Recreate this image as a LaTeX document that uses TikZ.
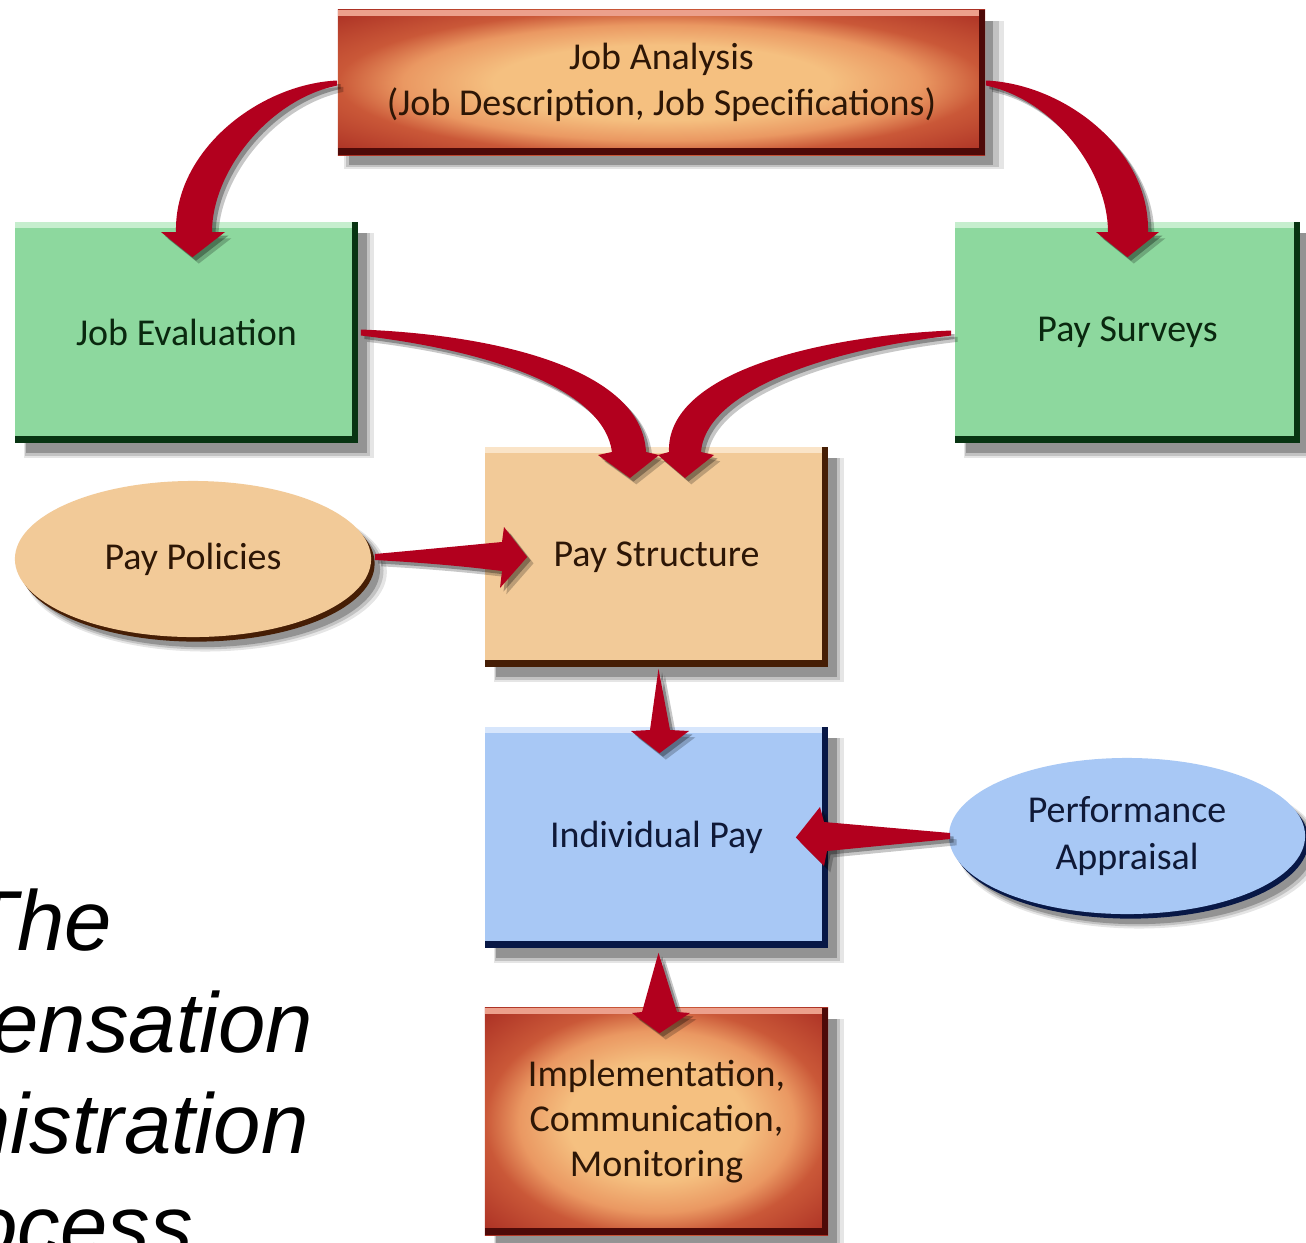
\documentclass[tikz,border=0pt]{standalone}
\usepackage{fontspec}
\setmainfont{Carlito}
\newfontfamily\titlefont{Liberation Sans}
\usetikzlibrary{shapes.geometric,shadows,calc}
\definecolor{glowA}{RGB}{245,192,128}
\definecolor{glowB}{RGB}{234,152,98}
\definecolor{glowC}{RGB}{202,88,56}
\definecolor{glowD}{RGB}{168,44,34}
\definecolor{glowhi}{RGB}{236,160,140}
\definecolor{glowdark}{RGB}{78,10,8}
\definecolor{jagreen}{RGB}{141,216,158}
\definecolor{greenhi}{RGB}{198,238,206}
\definecolor{greendark}{RGB}{8,52,18}
\definecolor{tanfill}{RGB}{242,202,152}
\definecolor{tanhi}{RGB}{250,228,200}
\definecolor{tandark}{RGB}{70,30,5}
\definecolor{bluefill}{RGB}{168,200,245}
\definecolor{bluehi}{RGB}{215,230,252}
\definecolor{bluedark}{RGB}{8,24,70}
\definecolor{arrowred}{RGB}{178,0,30}
\definecolor{brtext}{RGB}{45,22,6}
\definecolor{grtext}{RGB}{10,40,15}
\definecolor{bltext}{RGB}{15,25,55}
\pgfdeclareradialshading{boxglow}{\pgfpoint{0bp}{0bp}}{color(0bp)=(glowA); color(13bp)=(glowA); color(20bp)=(glowB); color(25bp)=(glowC); color(36bp)=(glowD); color(50bp)=(glowD)}
\tikzset{
  softshadow/.style={
    general shadow={fill=black,opacity=.10,shadow xshift=3.4pt,shadow yshift=-3.6pt,shadow scale=1.02},
    general shadow={fill=black,opacity=.15,shadow xshift=3.1pt,shadow yshift=-3.3pt,shadow scale=1.008},
    general shadow={fill=black,opacity=.24,shadow xshift=2.8pt,shadow yshift=-3.0pt,shadow scale=0.995}},
  bevel/.style 2 args={path picture={
    \fill[#1] ([yshift=-0.06cm]path picture bounding box.north west) rectangle (path picture bounding box.north east);
    \fill[#2] ([xshift=-0.06cm]path picture bounding box.north east) rectangle (path picture bounding box.south east);
    \fill[#2] ([yshift=0.07cm]path picture bounding box.south west) rectangle (path picture bounding box.south east);}},
  box/.style={rectangle, inner sep=0pt, softshadow, align=center,
    font=\fontsize{10.8}{12.9}\selectfont},
  oval/.style 2 args={ellipse, inner sep=0pt, softshadow,
    general shadow={fill=white,opacity=.6,shadow xshift=-0.6pt,shadow yshift=0.6pt},
    general shadow={fill=#2,shadow xshift=1.0pt,shadow yshift=-1.3pt},
    fill=#1, align=center, font=\fontsize{10.8}{13.4}\selectfont,
    minimum width=3.56cm, minimum height=1.56cm},
  redarrow/.style={fill=arrowred,
    general shadow={fill=black,opacity=.22,shadow xshift=1.8pt,shadow yshift=-1.8pt},
    general shadow={fill=black,opacity=.3,shadow xshift=1.0pt,shadow yshift=-1.0pt}},
  titleline/.style={anchor=base, inner sep=0pt,
    font=\titlefont\itshape\fontsize{24.2}{29}\selectfont}
}
\begin{document}
\begin{tikzpicture}[x=0.01cm,y=-0.01cm]
\useasboundingbox (0,0) rectangle (1306,1242);
\clip (0,0) rectangle (1306,1242);
\fill[white] (0,0) rectangle (1306,1242);

% title (clipped at the left edge, as in the reference)
\node[titleline] (t1) at (39,950) {The};
\node[titleline] (t2) at (39,1052) {Compensation};
\node[titleline] (t3) at (39,1153) {Administration};
\node[titleline] (t4) at (39,1255) {Process};

% boxes
\node[box, shading=boxglow, bevel={glowhi}{glowdark}, text=brtext,
  minimum width=6.47cm, minimum height=1.45cm] (ja) at (661.5,82.5)
  {Job Analysis\\(Job Description, Job Specifications)};
\node[box, fill=jagreen, bevel={greenhi}{greendark}, text=grtext,
  minimum width=3.43cm, minimum height=2.21cm] (je) at (186.5,332.5) {Job Evaluation};
\node[box, fill=jagreen, bevel={greenhi}{greendark}, text=grtext,
  minimum width=3.45cm, minimum height=2.21cm] (ps) at (1127.5,332.5) {Pay Surveys};
\node[box, fill=tanfill, bevel={tanhi}{tandark}, text=brtext,
  minimum width=3.43cm, minimum height=2.20cm] (pst) at (656.5,557) {Pay Structure};
\node[box, fill=bluefill, bevel={bluehi}{bluedark}, text=bltext,
  minimum width=3.43cm, minimum height=2.21cm] (ip) at (656.5,837.5) {Individual Pay};
\node[box, shading=boxglow, bevel={glowhi}{glowdark}, text=brtext,
  minimum width=3.43cm, minimum height=2.27cm] (im) at (656.5,1121.5)
  {Implementation,\\Communication,\\Monitoring};

% ellipses
\node[oval={tanfill}{tandark}, text=brtext] (pp) at (193,559) {Pay Policies};
\node[oval={bluefill}{bluedark}, text=bltext] (pa) at (1127,836) {Performance\\Appraisal};

% curved arrows
\fill[redarrow] ($(ja.west)+(0,-2)$) .. controls (260,84) and (174,150) .. (176,232)
  -- (161,232) -- ($(je.north)+(6,36)$) -- (225,232) -- (212,232)
  .. controls (212,172) and (268,100) .. ($(ja.west)+(0,3)$) -- cycle;
\fill[redarrow] ($(ja.east)+(0,-2)$) .. controls (1065,84) and (1150,150) .. (1148,232)
  -- (1159,232) -- ($(ps.north)+(0,36)$) -- (1096,232) -- (1108,232)
  .. controls (1108,172) and (1055,100) .. ($(ja.east)+(0,3)$) -- cycle;
\fill[redarrow] ($(je.east)+(2,-3)$) .. controls (500,335) and (642,370) .. (646,452)
  -- (659,455) -- (630,478) -- (598,455) -- (612,452)
  .. controls (604,392) and (500,352) .. ($(je.east)+(2,3)$) -- cycle;
\fill[redarrow] ($(ps.west)+(-3,-2)$) .. controls (820,336) and (666,372) .. (669,452)
  -- (658,455) -- (685,478) -- (714,455) -- (701,452)
  .. controls (705,396) and (810,352) .. ($(ps.west)+(-3,3)$) -- cycle;

% straight arrows
\fill[redarrow] ($(pp.east)+(3,-5)$) .. controls (430,549) and (470,545) .. (502,542)
  -- (504,527) -- ($(pst.west)+(43,0)$) -- (500,588) -- (502,571)
  .. controls (470,567) and (430,563) .. ($(pp.east)+(3,1)$) -- cycle;
\fill[redarrow] ($(pst.south)+(2,1)$) -- (670,730) -- (689,731) -- ($(ip.north)+(3,27)$)
  -- (631,731) -- (650,730) -- cycle;
\fill[redarrow] ($(ip.south)+(2,4)$) -- (677,1012) -- (690,1013) -- ($(im.north)+(3,26)$)
  -- (632,1013) -- (642,1012) -- cycle;
\fill[redarrow] ($(pa.west)+(2,-3)$) -- (824,822) -- (820,807) -- ($(ip.east)+(-33,0)$)
  -- (824,866) -- (827,851) -- ($(pa.west)+(2,3)$) -- cycle;
\end{tikzpicture}
\end{document}
